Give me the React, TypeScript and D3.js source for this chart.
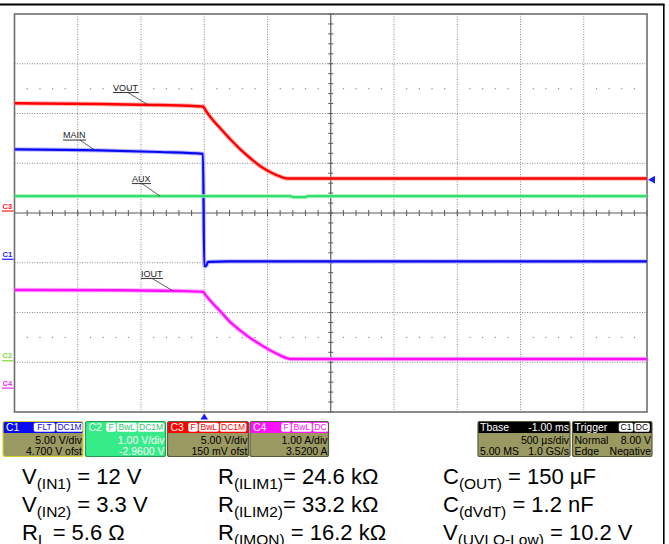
import React from 'react';
import * as d3 from 'd3';

// ---- Channel settings (from the scope readout) ----
const channelNames = ['C1', 'C2', 'C3', 'C4'];
const channelUnitsPerDiv = [5, 1, 5, 1];
const channelGroundDiv = [-0.93, -2.97, 0.04, -3.52];
const channelColors = ['#0a0af0', '#33e06e', '#ff0000', '#ff10ff'];
const channelMarkerColors = ['#1a1aff', '#7ad83a', '#ff1a1a', '#ff22ff'];

// ---- Traces (time in ms relative to trigger, values in channel units) ----
const voutTime = [-1.5, -0.824, -0.35, -0.01, 0.014, 0.061, 0.125, 0.204, 0.283, 0.362, 0.441, 0.52, 0.599, 0.654, 3.5];
const voutValue = [10.83, 10.75, 10.65, 10.5, 10.05, 9.25, 8.34, 7.24, 6.23, 5.33, 4.52, 3.92, 3.47, 3.27, 3.27];

const mainTime = [-1.5, -0.824, -0.35, -0.01, 0.0, 0.014, 0.03, 0.2, 3.5];
const mainValue = [11.05, 10.95, 10.78, 10.6, -0.68, -0.68, -0.27, -0.22, -0.22];

const auxTime = [-1.5, 0.68, 0.7, 0.8, 0.82, 3.5];
const auxValue = [3.31, 3.31, 3.29, 3.29, 3.31, 3.31];

const ioutTime = [-1.5, -0.665, -0.19, -0.01, 0.014, 0.061, 0.125, 0.204, 0.283, 0.362, 0.441, 0.52, 0.599, 0.654, 0.68, 3.5];
const ioutValue = [1.972, 1.966, 1.952, 1.937, 1.86, 1.72, 1.55, 1.33, 1.16, 1.01, 0.88, 0.76, 0.66, 0.6, 0.585, 0.585];

const traceNames = ['VOUT', 'MAIN', 'AUX', 'IOUT'];
const traceChannel = [2, 0, 1, 3];
const traceTimes = [voutTime, mainTime, auxTime, ioutTime];
const traceValues = [voutValue, mainValue, auxValue, ioutValue];
const traceLabelTime = [-0.445, -0.864, -0.35, -0.247];

// ---- Trigger ----
const triggerTime = 0;
const triggerLevel = 8.0; // V on C1

// ---- Readout boxes ----
const chanTags = [['FLT', 'DC1M'], ['F', 'BwL', 'DC1M'], ['F', 'BwL', 'DC1M'], ['F', 'BwL', 'DC']];
const chanScaleText = ['5.00 V/div', '1.00 V/div', '5.00 V/div', '1.00 A/div'];
const chanOffsetText = ['4.700 V ofst', '-2.9600 V', '150 mV ofst', '3.5200 A'];

const tbaseHeader = ['Tbase', '-1.00 ms'];
const tbaseRow2 = ['', '500 µs/div'];
const tbaseRow3 = ['5.00 MS', '1.0 GS/s'];
const trigHeader = ['Trigger', ''];
const trigTags = ['C1', 'DC'];
const trigRow2 = ['Normal', '8.00 V'];
const trigRow3 = ['Edge', 'Negative'];

// ---- Parameter table ----
const paramSymbol = [
  ['V', 'R', 'C'],
  ['V', 'R', 'C'],
  ['R', 'R', 'V'],
];
const paramSub = [
  ['(IN1)', '(ILIM1)', '(OUT)'],
  ['(IN2)', '(ILIM2)', '(dVdT)'],
  ['L', '(IMON)', '(UVLO-Low)'],
];
const paramValue = [
  [' = 12 V', '= 24.6 kΩ', ' = 150 µF'],
  [' = 3.3 V', '= 33.2 kΩ', ' = 1.2 nF'],
  ['  = 5.6 Ω', ' = 16.2 kΩ', ' = 10.2 V'],
];

// ---- Layout / style ----
const W = 669;
const H = 544;
const PL = 14.5, PR = 647, PT = 14, PB = 412;
const FONT = "'Liberation Sans', Arial, Helvetica, sans-serif";

const labelStyle = [
  { tx: -35, base: -13.8, ul: -12.3, lx: -20, uw: 26 },
  { tx: -32, base: -12.2, ul: -10.2, lx: -15, uw: 23 },
  { tx: -28, base: -14, ul: -12.5, lx: -18, uw: 19 },
  { tx: -32, base: -14.2, ul: -12.5, lx: -21, uw: 22 },
];

const chanBoxX = [3, 85.5, 167.5, 250];
const chanBoxW = [80, 80, 81, 78.5];
const chanTagStart = [31, 21, 21, 31.5];
const chanBorder = ['#d6d02a', '#2a9a55', '#5a5a3a', '#5a5a3a'];
const BOX_Y = 421.5, BOX_H = 35, HEAD_H = 11.5;
const OLIVE = '#9a9962';

export default function App() {
  const x = d3.scaleLinear().domain([-1.5, 3.5]).range([PL, PR]);
  const y = d3.scaleLinear().domain([-4, 4]).range([PB, PT]);
  const chY = (ch: number, v: number) => y(v / channelUnitsPerDiv[ch] + channelGroundDiv[ch]);

  const interp = (ts: number[], vs: number[], t: number) => {
    const i = Math.max(1, d3.bisectLeft(ts, t));
    const t0 = ts[i - 1], t1 = ts[i];
    const f = (t - t0) / (t1 - t0);
    return vs[i - 1] + (vs[i] - vs[i - 1]) * f;
  };

  const xTicks = d3.range(0, 11).map((k) => -1.5 + 0.5 * k);
  const yTicks = d3.range(-4, 5);
  const minorX = d3.range(0, 51).map((k) => -1.5 + 0.1 * k);
  const minorY = d3.range(0, 41).map((k) => -4 + 0.2 * k);

  const traces = traceNames.map((name, i) => {
    const ch = traceChannel[i];
    const pts: [number, number][] = traceTimes[i].map((t, j) => [t, traceValues[i][j]]);
    const line = d3
      .line<[number, number]>()
      .x((d) => x(d[0]))
      .y((d) => chY(ch, d[1]))
      .curve(d3.curveMonotoneX);
    return { name, ch, d: line(pts) as string };
  });

  const haloColors = ['#9a9aff', '#9af0b8', '#ff9a9a', '#ff9aff'];
  const coreWidth = [2.2, 2.4, 2.4, 2.4];

  const tx = x(triggerTime);
  const trigY = chY(0, triggerLevel);

  const tagWidth = (s: string) => {
    let w = 3;
    for (const c of s) w += /[A-Z]/.test(c) ? 6 : /[0-9]/.test(c) ? 5 : 4.6;
    return w;
  };

  const renderTags = (tags: string[], x0: number, y0: number, color: string) => {
    let cx = x0;
    return tags.map((tg, k) => {
      const w = tagWidth(tg);
      const el = (
        <g key={k}>
          <rect x={cx} y={y0 + 1.5} width={w} height={HEAD_H - 3} rx={1.5} fill="#ffffff" stroke="#ffffff" strokeWidth={0.5} />
          <text x={cx + w / 2} y={y0 + HEAD_H - 2.6} fontSize={8.5} textAnchor="middle" fill={color} fontFamily={FONT}>
            {tg}
          </text>
        </g>
      );
      cx += w + 1.5;
      return el;
    });
  };

  return (
    <svg width={W} height={H} style={{ position: 'absolute', left: 0, top: 0, background: '#fff' }} fontFamily={FONT}>
      <defs>
        {channelNames.map((c, i) => (
          <clipPath id={`cb${i}`} key={c}>
            <rect x={chanBoxX[i]} y={BOX_Y} width={chanBoxW[i]} height={BOX_H} rx={2} />
          </clipPath>
        ))}
        <clipPath id="plotclip">
          <rect x={PL} y={PT} width={PR - PL + 12} height={PB - PT} />
        </clipPath>
      </defs>
      <rect x={0} y={0} width={W} height={H} fill="#fff" />
      {/* outer frame */}
      <line x1={0} x2={664.5} y1={4.5} y2={4.5} stroke="#000" strokeWidth={2} />
      <line x1={663.8} x2={663.8} y1={4} y2={H} stroke="#000" strokeWidth={1.6} />

      {/* grid */}
      {xTicks.slice(1, -1).filter((t) => Math.abs(t - 1) > 1e-6).map((t) => (
        <line key={`gx${t}`} x1={x(t)} x2={x(t)} y1={PT} y2={PB} stroke="#8a8a8a" strokeWidth={1} strokeDasharray="1,1.5" />
      ))}
      {yTicks.slice(1, -1).filter((v) => v !== 0).map((v) => (
        <line key={`gy${v}`} x1={PL} x2={PR} y1={y(v)} y2={y(v)} stroke="#8a8a8a" strokeWidth={1} strokeDasharray="1,1.5" />
      ))}
      {/* dot rows */}
      {[2.5, -2.5].map((row) =>
        minorX
          .filter((t, k) => k % 5 !== 0)
          .map((t) => <rect key={`dr${row}_${t}`} x={x(t) - 0.5} y={y(row) - 0.5} width={1.2} height={1.2} fill="#8a8a8a" />)
      )}
      {/* center axes */}
      <line x1={PL} x2={PR} y1={y(0)} y2={y(0)} stroke="#5a5a5a" strokeWidth={1.2} />
      <line x1={x(1)} x2={x(1)} y1={PT} y2={PB} stroke="#5a5a5a" strokeWidth={1.2} />
      {minorX.map((t) => (
        <line key={`tx${t}`} x1={x(t)} x2={x(t)} y1={y(0) - 3} y2={y(0) + 3} stroke="#5a5a5a" strokeWidth={1} />
      ))}
      {minorY.map((v) => (
        <line key={`ty${v}`} x1={x(1) - 2.5} x2={x(1) + 2.5} y1={y(v)} y2={y(v)} stroke="#5a5a5a" strokeWidth={1} />
      ))}
      <rect x={PL} y={PT} width={PR - PL} height={PB - PT} fill="none" stroke="#6e6e6e" strokeWidth={1.6} />

      {/* traces */}
      <g clipPath="url(#plotclip)">
        {[1, 3, 0, 2].map((i) => (
          <g key={traces[i].name}>
            <path d={traces[i].d} fill="none" stroke={haloColors[traces[i].ch]} strokeWidth={coreWidth[traces[i].ch] + 2} strokeOpacity={0.7} />
            <path d={traces[i].d} fill="none" stroke={channelColors[traces[i].ch]} strokeWidth={coreWidth[traces[i].ch]} />
          </g>
        ))}
      </g>

      {/* trace labels */}
      {traceNames.map((name, i) => {
        const t = traceLabelTime[i];
        const ex = x(t);
        const ey = chY(traceChannel[i], interp(traceTimes[i], traceValues[i], t));
        const s = labelStyle[i];
        return (
          <g key={`lb${name}`}>
            <text x={ex + s.tx} y={ey + s.base} fontSize={9} fill="#1a1a1a" fontFamily={FONT}>
              {name}
            </text>
            <line x1={ex + s.tx} x2={ex + s.tx + s.uw} y1={ey + s.ul} y2={ey + s.ul} stroke="#333" strokeWidth={1} />
            <line x1={ex + s.lx} y1={ey + s.ul} x2={ex} y2={ey} stroke="#333" strokeWidth={0.8} />
          </g>
        );
      })}

      {/* ground markers */}
      {channelNames.map((c, i) => {
        const gy = y(channelGroundDiv[i]);
        return (
          <g key={`gm${c}`}>
            <text x={2.5} y={gy - 2.3} fontSize={7.5} fontWeight="bold" fill={channelMarkerColors[i]} fontFamily={FONT}>
              {c}
            </text>
            <line x1={2} x2={13.5} y1={gy} y2={gy} stroke={channelMarkerColors[i]} strokeWidth={1.2} />
          </g>
        );
      })}

      {/* trigger markers */}
      <path d={`M${tx},${PB + 1.5} L${tx + 3.8},${PB + 7.5} L${tx - 3.8},${PB + 7.5} Z`} fill="#1a1aff" />
      <path d={`M${PR + 1},${trigY} L${PR + 8},${trigY - 3.8} L${PR + 8},${trigY + 3.8} Z`} fill="#1a1aff" />

      {/* channel readout boxes */}
      {channelNames.map((c, i) => {
        const bx = chanBoxX[i];
        const bw = chanBoxW[i];
        const isGreen = i === 1;
        const body = isGreen ? '#36ec88' : OLIVE;
        const txtCol = isGreen ? '#ffffff' : '#000000';
        return (
          <g key={`box${c}`}>
            <g clipPath={`url(#cb${i})`}>
              <rect x={bx} y={BOX_Y} width={bw} height={BOX_H} fill={body} />
              <rect x={bx} y={BOX_Y} width={bw} height={HEAD_H} fill={isGreen ? '#36ec88' : channelColors[i]} />
              <text x={bx + 3} y={BOX_Y + HEAD_H - 2} fontSize={10.5} fill="#fff" fontFamily={FONT}>
                {c}
              </text>
              {renderTags(chanTags[i], bx + chanTagStart[i], BOX_Y, isGreen ? '#2cc86e' : channelColors[i])}
              <text x={bx + bw - 1} y={BOX_Y + 22.8} fontSize={10.5} fill={txtCol} textAnchor="end" fontFamily={FONT}>
                {chanScaleText[i]}
              </text>
              <text x={bx + bw - 1} y={BOX_Y + 33.5} fontSize={10.5} fill={txtCol} textAnchor="end" fontFamily={FONT}>
                {chanOffsetText[i]}
              </text>
            </g>
            <rect x={bx} y={BOX_Y} width={bw} height={BOX_H} rx={2} fill="none" stroke={chanBorder[i]} strokeWidth={1.2} />
          </g>
        );
      })}

      {/* timebase + trigger boxes */}
      {[
        { bx: 478, bw: 92, head: tbaseHeader, r2: tbaseRow2, r3: tbaseRow3, tags: [] as string[] },
        { bx: 572.5, bw: 79.5, head: trigHeader, r2: trigRow2, r3: trigRow3, tags: trigTags },
      ].map((b, k) => (
        <g key={`tb${k}`}>
          <rect x={b.bx} y={BOX_Y} width={b.bw} height={BOX_H} rx={2} fill={OLIVE} />
          <rect x={b.bx} y={BOX_Y} width={b.bw} height={HEAD_H} fill="#000" />
          <text x={b.bx + 2} y={BOX_Y + HEAD_H - 2} fontSize={10.5} fill="#fff" fontFamily={FONT}>
            {b.head[0]}
          </text>
          <text x={b.bx + b.bw - 1} y={BOX_Y + HEAD_H - 2} fontSize={10.5} fill="#fff" textAnchor="end" fontFamily={FONT}>
            {b.head[1]}
          </text>
          {b.tags.length > 0 && renderTags(b.tags, b.bx + b.bw - 1 - b.tags.reduce((s, t) => s + tagWidth(t) + 1.5, 0), BOX_Y, '#000')}
          <text x={b.bx + 2} y={BOX_Y + 22.8} fontSize={10.5} fill="#000" fontFamily={FONT}>
            {b.r2[0]}
          </text>
          <text x={b.bx + b.bw - 1} y={BOX_Y + 22.8} fontSize={10.5} fill="#000" textAnchor="end" fontFamily={FONT}>
            {b.r2[1]}
          </text>
          <text x={b.bx + 2} y={BOX_Y + 33.5} fontSize={10.5} fill="#000" fontFamily={FONT}>
            {b.r3[0]}
          </text>
          <text x={b.bx + b.bw - 1} y={BOX_Y + 33.5} fontSize={10.5} fill="#000" textAnchor="end" fontFamily={FONT}>
            {b.r3[1]}
          </text>
          <rect x={b.bx} y={BOX_Y} width={b.bw} height={BOX_H} rx={2} fill="none" stroke="#5a5a3a" strokeWidth={1.2} />
        </g>
      ))}

      {/* parameter table */}
      {paramSymbol.map((row, r) =>
        row.map((sym, c) => (
          <text key={`p${r}${c}`} x={[22, 218, 443][c]} y={483.5 + r * 28} fontSize={22} fill="#000" fontFamily={FONT}>
            <tspan>{sym}</tspan>
            <tspan fontSize={15.5} dy={5}>
              {paramSub[r][c]}
            </tspan>
            <tspan dy={-5}>{paramValue[r][c]}</tspan>
          </text>
        ))
      )}
    </svg>
  );
}
